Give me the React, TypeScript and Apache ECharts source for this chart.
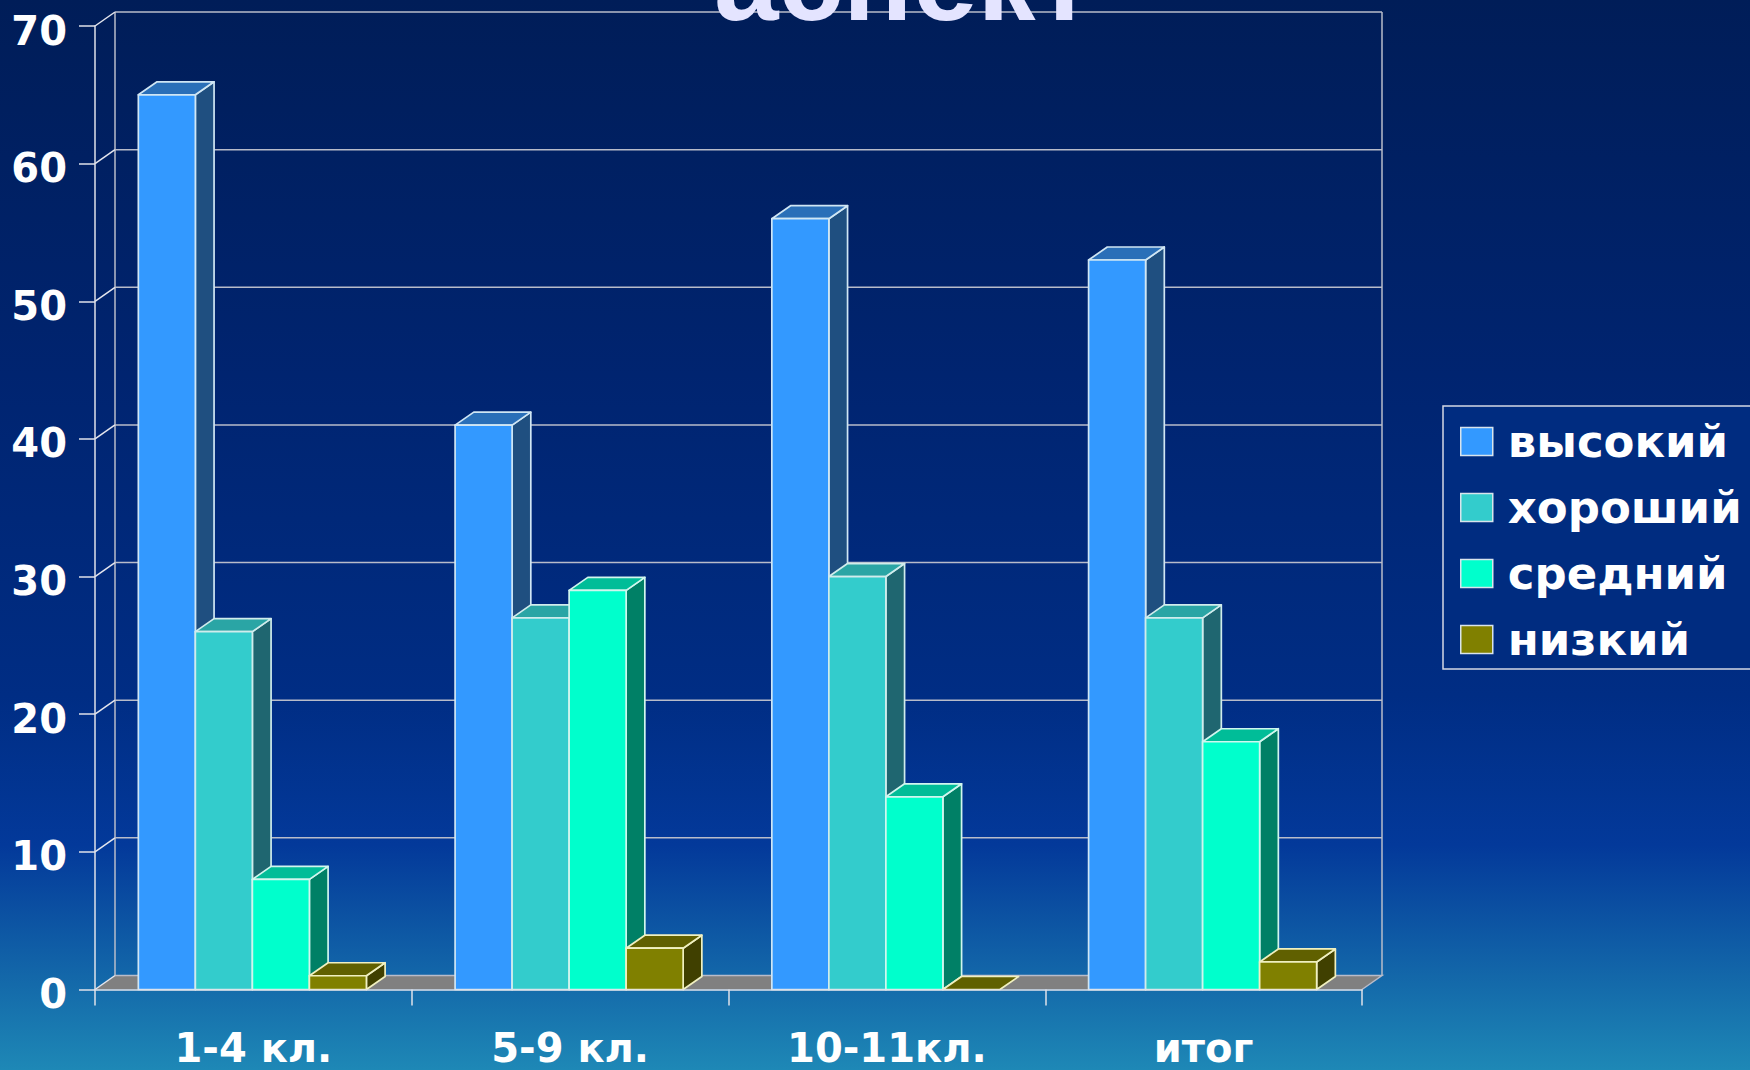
import React, { useEffect, useRef } from "react";
import * as echarts from "echarts";

const titleText = "аспект";
const categories = ["1-4 кл.", "5-9 кл.", "10-11кл.", "итог"];
const seriesNames = ["высокий", "хороший", "средний", "низкий"];
const vysokiy = [65, 41, 56, 53];
const khoroshiy = [26, 27, 30, 27];
const sredniy = [8, 29, 14, 18];
const nizkiy = [1, 3, 0, 2];
const yTicks = [0, 10, 20, 30, 40, 50, 60, 70];

const faceColors = ["#3399ff", "#33cccc", "#00ffcc", "#808000"];
const topColors = ["#2a6fb8", "#2aa5a5", "#00bd98", "#606000"];
const sideColors = ["#1f4f80", "#1f6670", "#008066", "#404000"];
const edgeColors = ["#d0e6f4", "#d0ecec", "#d0f6ee", "#f0f0c0"];

const FONT = "'DejaVu Sans'";
const WALL = "#b8bcca";

function App() {
  const ref = useRef<HTMLDivElement>(null);
  useEffect(() => {
    document.body.style.margin = "0";
    const chart = echarts.init(ref.current!, null, { renderer: "svg" });
    const all = [vysokiy, khoroshiy, sredniy, nizkiy];

    const wallItem = (params: any, api: any) => {
      const v = api.value(0);
      const band = api.size([1, 0])[0];
      const left = api.coord([0, v])[0] - band / 2;
      const right = api.coord([categories.length - 1, v])[0] + band / 2;
      const y = api.coord([0, v])[1];
      const dx = 20;
      const dy = 14;
      const children: any[] = [];
      if (v === 0) {
        children.push({
          type: "polygon",
          shape: { points: [[left, y], [left + dx, y - dy], [right + dx, y - dy], [right, y]] },
          style: { fill: "#808080", stroke: "none" },
        });
        children.push({
          type: "polyline",
          shape: { points: [[left + dx, y - dy], [right + dx, y - dy], [right, y]] },
          style: { fill: "none", stroke: WALL, lineWidth: 1.5 },
        });
        const topY = api.coord([0, yTicks[yTicks.length - 1]])[1] - dy;
        children.push({
          type: "line",
          shape: { x1: left + dx, y1: y - dy, x2: left + dx, y2: topY },
          style: { stroke: WALL, lineWidth: 1.5 },
        });
        children.push({
          type: "line",
          shape: { x1: right + dx, y1: y - dy, x2: right + dx, y2: topY },
          style: { stroke: WALL, lineWidth: 1.5 },
        });
      } else {
        children.push({
          type: "line",
          shape: { x1: left + dx, y1: y - dy, x2: right + dx, y2: y - dy },
          style: { stroke: WALL, lineWidth: 1.5 },
        });
      }
      children.push({
        type: "line",
        shape: { x1: left, y1: y, x2: left + dx, y2: y - dy },
        style: { stroke: "#e4e6ee", lineWidth: 1.5 },
      });
      return { type: "group", children };
    };

    const barItem = (s: number) => (params: any, api: any) => {
      const cat = api.value(0);
      const v = api.value(1);
      const base = api.coord([cat, 0]);
      const top = api.coord([cat, v]);
      const w = api.size([1, 0])[0] * 0.18;
      const x0 = base[0] - 2 * w + s * w - 1;
      const x1 = x0 + w;
      const dx = 18.7;
      const dy = 13;
      const style = (fill: string) => ({ fill, stroke: edgeColors[s], lineWidth: 1.7, lineJoin: "round" });
      const children: any[] = [];
      if (v > 0) {
        children.push({
          type: "polygon",
          shape: { points: [[x1, top[1]], [x1 + dx, top[1] - dy], [x1 + dx, base[1] - dy], [x1, base[1]]] },
          style: style(sideColors[s]),
        });
      }
      children.push({
        type: "polygon",
        shape: { points: [[x0, top[1]], [x0 + dx, top[1] - dy], [x1 + dx, top[1] - dy], [x1, top[1]]] },
        style: style(topColors[s]),
      });
      if (v > 0) {
        children.push({
          type: "rect",
          shape: { x: x0, y: top[1], width: w, height: base[1] - top[1] },
          style: style(faceColors[s]),
        });
      }
      return { type: "group", children };
    };

    chart.setOption({
      animation: false,
      backgroundColor: new echarts.graphic.LinearGradient(0, 0, 0, 1, [
        { offset: 0, color: "#001d58" },
        { offset: 0.35, color: "#002470" },
        { offset: 0.65, color: "#002d84" },
        { offset: 0.79, color: "#03399a" },
        { offset: 0.92, color: "#146aaa" },
        { offset: 1, color: "#1e88b6" },
      ]),
      title: {
        text: titleText,
        left: 714,
        top: -78,
        z: 20,
        padding: 0,
        textStyle: { color: "#e4e4ff", fontSize: 116, fontWeight: "bold", fontFamily: "'Liberation Sans'" },
      },
      grid: { left: 95, top: 26, width: 1267, height: 963.5 },
      xAxis: {
        type: "category",
        data: categories,
        axisLine: { show: true, lineStyle: { color: "#dfe2ea", width: 1.5 } },
        axisTick: { show: true, alignWithLabel: false, length: 16, lineStyle: { color: "#dfe2ea", width: 1.5 } },
        axisLabel: { color: "#ffffff", fontFamily: FONT, fontWeight: "bold", fontSize: 40, margin: 38 },
        splitLine: { show: false },
        z: 10,
      },
      yAxis: {
        type: "value",
        min: 0,
        max: 70,
        interval: 10,
        axisLine: { show: true, lineStyle: { color: "#dfe2ea", width: 1.5 } },
        axisTick: { show: true, length: 16, lineStyle: { color: "#dfe2ea", width: 1.5 } },
        axisLabel: {
          color: "#ffffff",
          fontFamily: FONT,
          fontWeight: "bold",
          fontSize: 40,
          margin: 28,
          verticalAlign: "top",
          lineHeight: 9,
        },
        splitLine: { show: false },
        z: 10,
      },
      legend: {
        orient: "vertical",
        left: 1443,
        top: 406,
        data: seriesNames,
        padding: [13, 16, 7, 17],
        itemWidth: 32,
        itemHeight: 28,
        itemGap: 21,
        backgroundColor: "#002c80",
        borderColor: "#d4d8e4",
        borderWidth: 1.5,
        borderRadius: 0,
        icon: "rect",
        selectedMode: false,
        itemStyle: { borderColor: "#d8e4ec", borderWidth: 1.5 },
        textStyle: { color: "#ffffff", fontFamily: FONT, fontWeight: "bold", fontSize: 45, padding: [0, 0, 3, 10] },
      },
      series: [
        {
          type: "custom",
          name: "walls",
          silent: true,
          clip: false,
          z: 1,
          data: yTicks.map((v) => [v]),
          encode: { y: 0 },
          renderItem: wallItem,
        },
        ...seriesNames.map((name, s) => ({
          type: "custom",
          name,
          clip: false,
          z: 2 + s,
          itemStyle: { color: faceColors[s] },
          data: all[s].map((v, i) => [i, v]),
          encode: { x: 0, y: 1 },
          renderItem: barItem(s),
        })),
      ],
    });
    return () => chart.dispose();
  }, []);
  return <div ref={ref} style={{ width: 1750, height: 1070 }} />;
}

export default App;
